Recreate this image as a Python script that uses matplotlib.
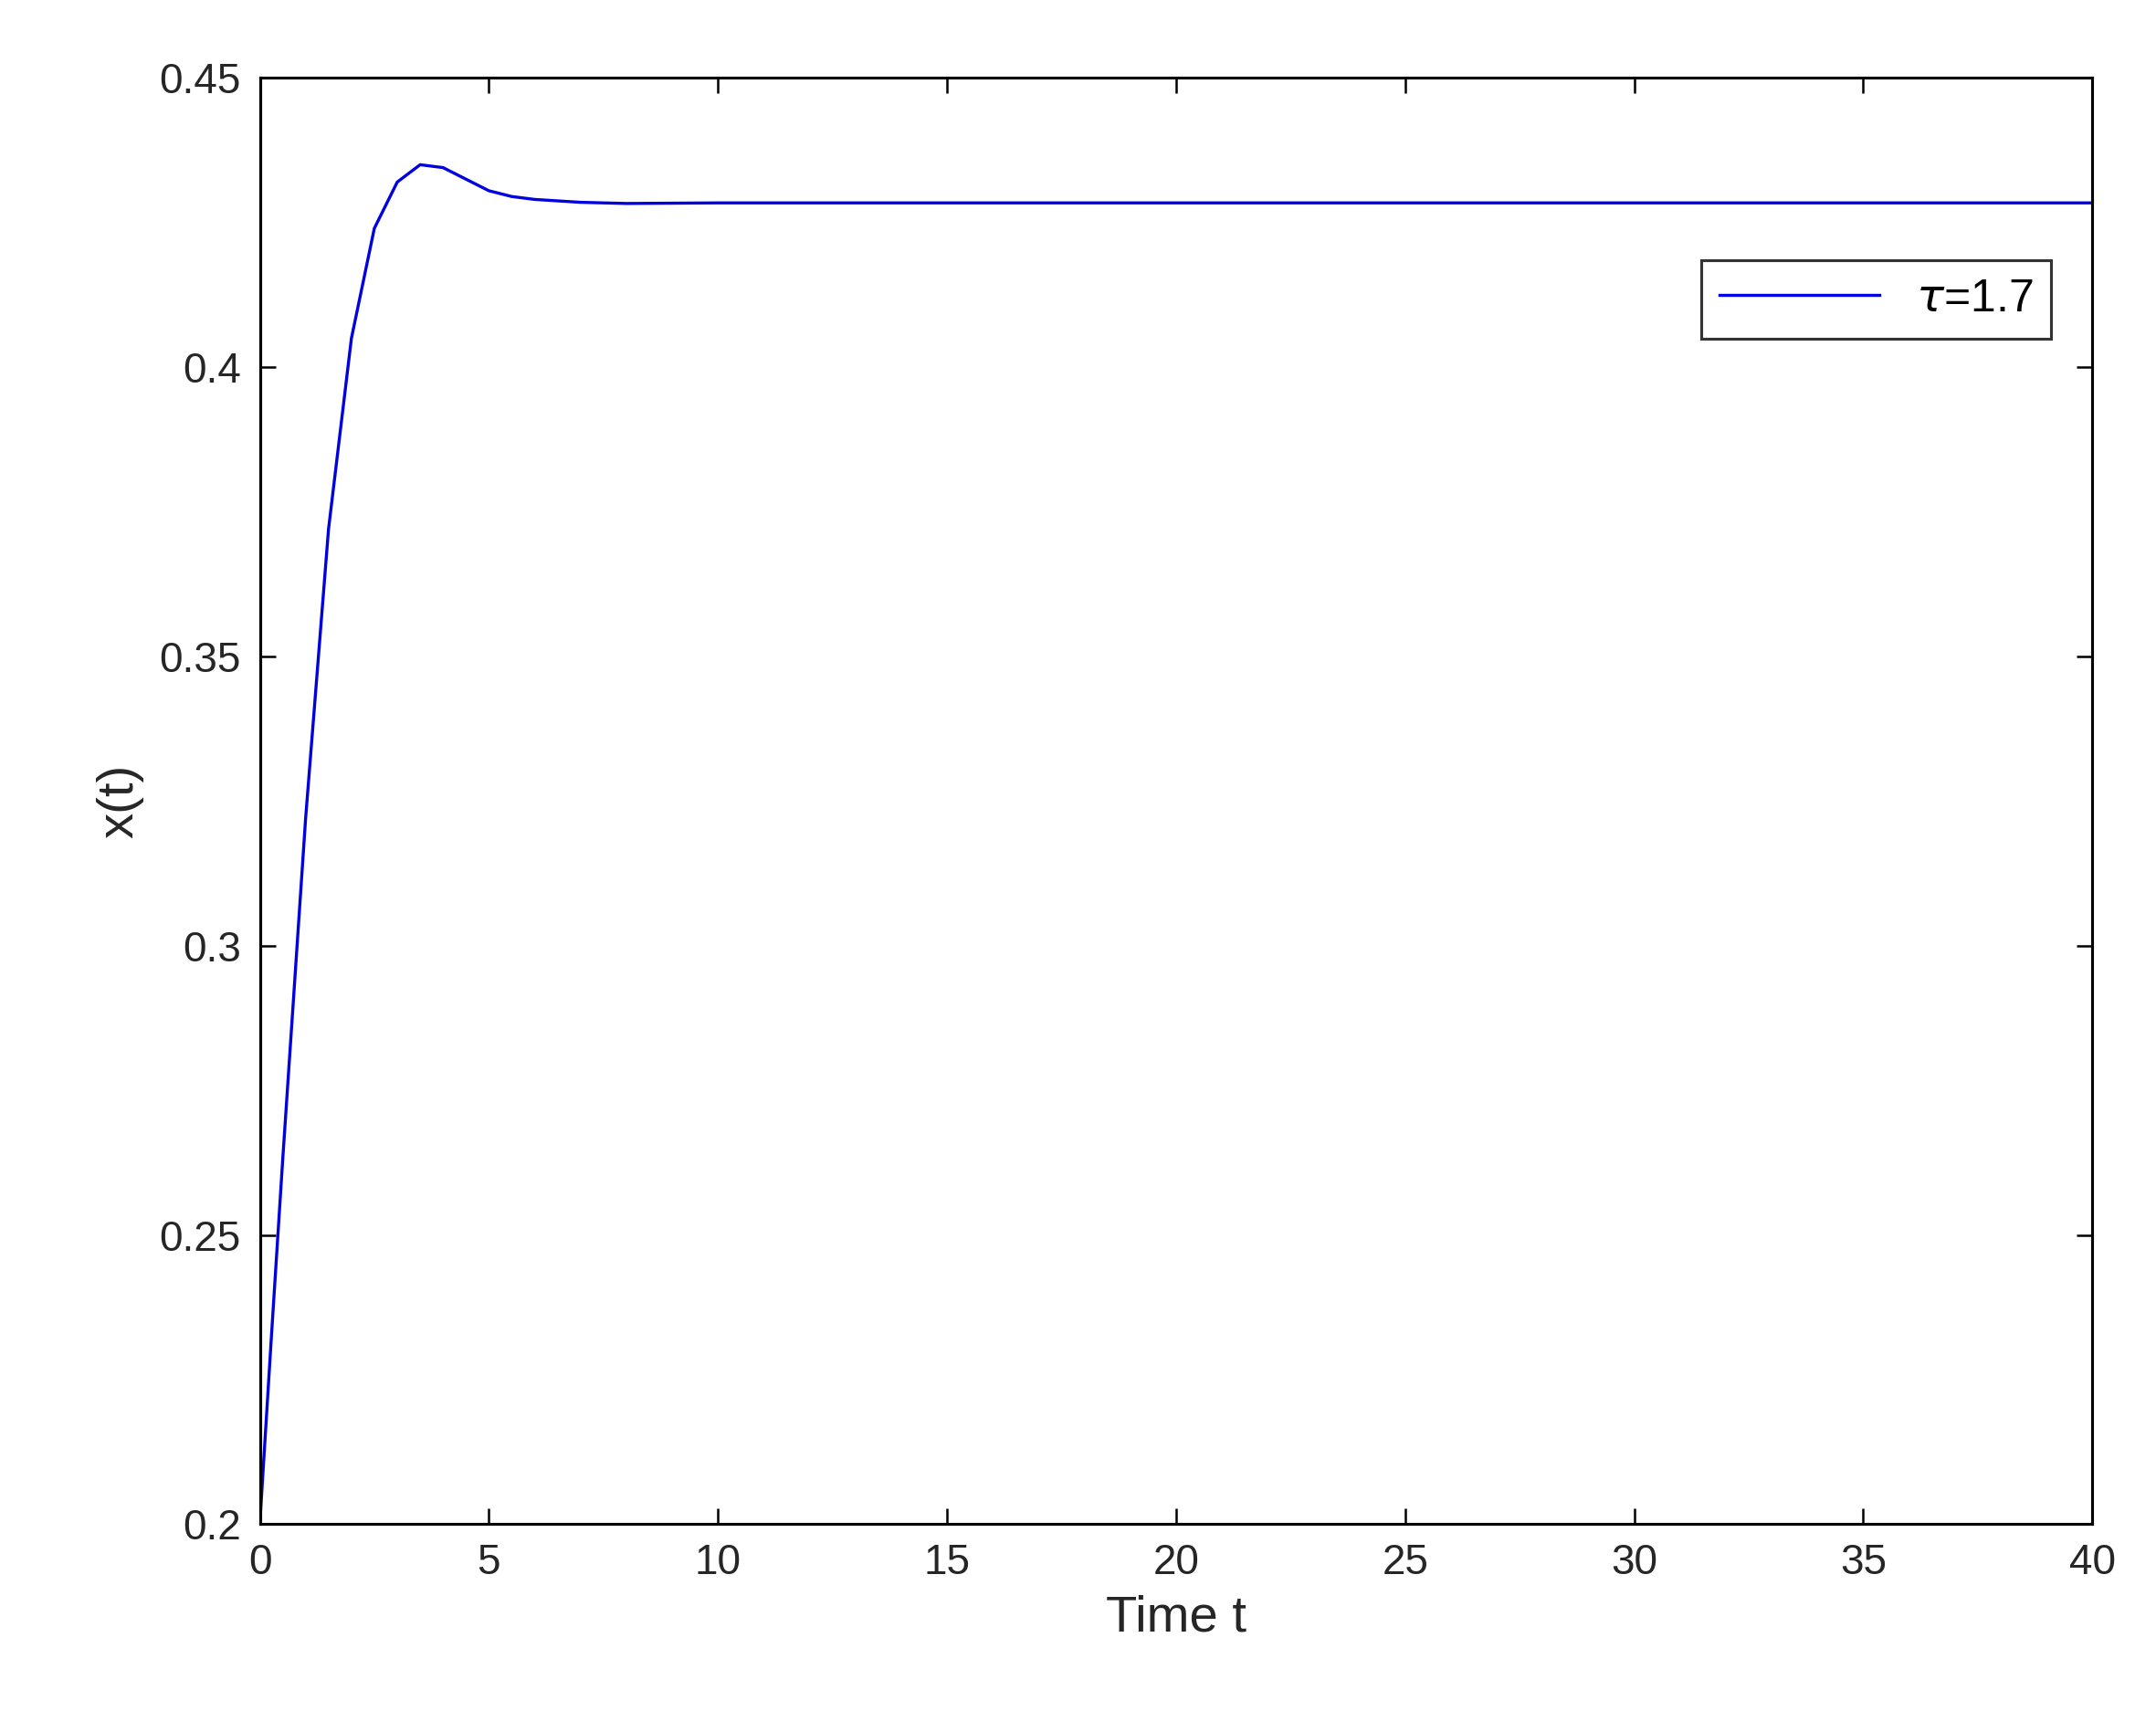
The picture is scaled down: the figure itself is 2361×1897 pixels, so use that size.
import numpy as np
import matplotlib.pyplot as plt

plt.rcParams['font.family'] = ['Liberation Sans', 'DejaVu Sans']

# values
t = [0, 0.25, 0.5, 1.0, 1.5, 2.0, 2.5, 3.0, 3.5, 4.0, 4.5, 5.0, 5.5, 6.0, 7.0, 8.0, 10.0, 40.0]
x = [0.200, 0.232, 0.263, 0.322, 0.372, 0.405, 0.424, 0.432, 0.435, 0.4345, 0.4325,
     0.4305, 0.4295, 0.4290, 0.4285, 0.4283, 0.4284, 0.4284]

fig = plt.figure(figsize=(2361 / 150, 1897 / 150), dpi=150)
ax = fig.add_axes([0.1205, 0.120, 0.850, 0.835])

ax.plot(t, x, color='#0000e0', linewidth=1.6, label=r'$\tau$=1.7')

ax.set_xlim(0, 40)
ax.set_ylim(0.2, 0.45)
ax.set_xticks(np.arange(0, 41, 5))
ax.set_yticks([0.2, 0.25, 0.3, 0.35, 0.4, 0.45])
ax.set_yticklabels(['0.2', '0.25', '0.3', '0.35', '0.4', '0.45'])
ax.tick_params(direction='in', top=True, right=True, length=8, width=1.2,
               labelsize=22, labelcolor='#262626', pad=10)
for s in ax.spines.values():
    s.set_linewidth(1.5)

ax.set_xlabel('Time t', fontsize=27, color='#262626', labelpad=6)
ax.set_ylabel('x(t)', fontsize=27, color='#262626', labelpad=8)

leg = ax.legend(loc='upper right', bbox_to_anchor=(0.99, 0.89), fontsize=24,
                fancybox=False, edgecolor='black', handlelength=3.5, borderpad=0.4)
leg.get_frame().set_linewidth(1.5)

fig.savefig('out.png', dpi=150)
